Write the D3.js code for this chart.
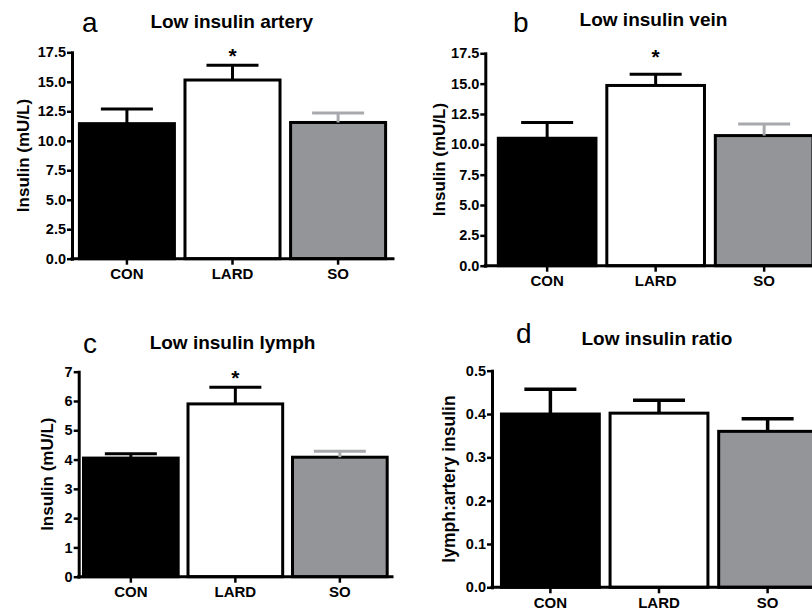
<!DOCTYPE html>
<html>
<head>
<meta charset="utf-8">
<script src="https://cdn.jsdelivr.net/npm/d3@7"></script>
<style>
  body { margin: 0; background: #fff; }
  svg text { font-family: "Liberation Sans", Arial, sans-serif; fill: #000; }
  .axis path, .axis line { stroke: #000; }
  .axis path { stroke-width: 3; stroke-linecap: square; }
  .axis line { stroke-width: 2.5; }
  .axis text { font-weight: bold; }
</style>
</head>
<body>
<svg id="chart" width="812" height="616"></svg>
<script>
// groups and values (mean, SEM)
var groups = ["CON", "LARD", "SO"];

var arteryMean = [11.45, 15.15, 11.55];
var arterySem  = [1.25, 1.25, 0.8];

var veinMean = [10.5, 14.85, 10.72];
var veinSem  = [1.3, 0.92, 0.95];

var lymphMean = [4.05, 5.9, 4.08];
var lymphSem  = [0.15, 0.57, 0.2];

var ratioMean = [0.40, 0.402, 0.36];
var ratioSem  = [0.057, 0.03, 0.029];

var sigStar = [false, true, false];

var fills = ["#000000", "#ffffff", "#939598"];

var panels = [
  { letter: "a", title: "Low insulin artery", ylabel: "Insulin (mU/L)", mean: arteryMean, sem: arterySem,
    max: 17.5, step: 2.5, fmt: ".1f", star: sigStar, starY: 17.6,
    left: 72, right: 393, top: 52.3, bottom: 258.7, padIn: 0.1, padOut: 0.07,
    titleX: 231.7, titleY: 27.7, letterX: 82, letterY: 32, ylabelX: 23, ylabelSize: 17,
    errColors: ["#000", "#000", "#a7a9ac"], errW: 3 },
  { letter: "b", title: "Low insulin vein", ylabel: "Insulin (mU/L)", mean: veinMean, sem: veinSem,
    max: 17.5, step: 2.5, fmt: ".1f", star: sigStar, starY: 17.64,
    left: 485.3, right: 826, top: 53.3, bottom: 265.7, padIn: 0.1, padOut: 0.12,
    titleX: 653.5, titleY: 26, letterX: 513, letterY: 32, ylabelX: 439, ylabelSize: 17,
    errColors: ["#000", "#000", "#a7a9ac"], errW: 3 },
  { letter: "c", title: "Low insulin lymph", ylabel: "Insulin (mU/L)", mean: lymphMean, sem: lymphSem,
    max: 7, step: 1, fmt: "d", star: sigStar, starY: 6.95,
    left: 78.7, right: 392, top: 371.7, bottom: 576.7, padIn: 0.094, padOut: 0.046,
    titleX: 232.5, titleY: 348.5, letterX: 83, letterY: 353, ylabelX: 47, ylabelSize: 17,
    errColors: ["#000", "#000", "#a7a9ac"], errW: 3 },
  { letter: "d", title: "Low insulin ratio", ylabel: "lymph:artery insulin", mean: ratioMean, sem: ratioSem,
    max: 0.5, step: 0.1, fmt: ".1f", star: null, starY: 0,
    left: 492, right: 826, top: 370.7, bottom: 587.3, padIn: 0.099, padOut: 0.087,
    titleX: 657, titleY: 345, letterX: 516, letterY: 343, ylabelX: 449, ylabelSize: 17.5,
    errColors: ["#000", "#000", "#000"], errW: 3.5 }
];

var svg = d3.select("#chart");

function drawPanel(p) {
  var g = svg.append("g");

  var x = d3.scaleBand().domain(groups)
      .range([p.left, p.right])
      .paddingInner(p.padIn)
      .paddingOuter(p.padOut);
  var y = d3.scaleLinear().domain([0, p.max]).range([p.bottom, p.top]);

  var rows = groups.map(function(k, i) {
    return { key: k, mean: p.mean[i], sem: p.sem[i], i: i };
  });

  // bars
  g.selectAll("rect.bar").data(rows).enter().append("rect")
      .attr("class", "bar")
      .attr("x", function(d) { return x(d.key); })
      .attr("width", x.bandwidth())
      .attr("y", function(d) { return y(d.mean); })
      .attr("height", function(d) { return y(0) - y(d.mean); })
      .attr("fill", function(d) { return fills[d.i]; })
      .attr("stroke", "#000")
      .attr("stroke-width", 3);

  // error bars, upper half only
  var capW = 52;
  var eb = g.selectAll("g.err").data(rows).enter().append("g")
      .attr("class", "err")
      .attr("stroke", function(d) { return p.errColors[d.i]; })
      .attr("stroke-width", p.errW);
  eb.append("line")
      .attr("x1", function(d) { return x(d.key) + x.bandwidth() / 2; })
      .attr("x2", function(d) { return x(d.key) + x.bandwidth() / 2; })
      .attr("y1", function(d) { return y(d.mean); })
      .attr("y2", function(d) { return y(d.mean + d.sem); });
  eb.append("line")
      .attr("x1", function(d) { return x(d.key) + x.bandwidth() / 2 - capW / 2; })
      .attr("x2", function(d) { return x(d.key) + x.bandwidth() / 2 + capW / 2; })
      .attr("y1", function(d) { return y(d.mean + d.sem); })
      .attr("y2", function(d) { return y(d.mean + d.sem); });

  // significance stars
  if (p.star) {
    g.selectAll("text.star").data(rows.filter(function(d) { return p.star[d.i]; }))
      .enter().append("text")
      .attr("class", "star")
      .attr("x", function(d) { return x(d.key) + x.bandwidth() / 2; })
      .attr("y", y(p.starY) + 12)
      .attr("text-anchor", "middle")
      .style("font-size", "21px")
      .style("font-weight", "bold")
      .text("*");
  }

  // axes
  var yAxis = d3.axisLeft(y)
      .tickValues(d3.range(0, p.max + p.step / 2, p.step))
      .tickFormat(d3.format(p.fmt))
      .tickSize(5).tickSizeOuter(0).tickPadding(1);
  g.append("g").attr("class", "axis")
      .attr("transform", "translate(" + p.left + ",0)")
      .call(yAxis)
      .selectAll("text").style("font-size", "14.5px");

  var xAxis = d3.axisBottom(x).tickSize(6).tickSizeOuter(0).tickPadding(4);
  var xg = g.append("g").attr("class", "axis")
      .attr("transform", "translate(0," + p.bottom + ")")
      .call(xAxis);
  xg.select(".domain").attr("d", "M" + p.left + ",0H" + p.right);
  xg.selectAll("text").style("font-size", "15px");

  // titles and labels
  g.append("text")
      .attr("x", p.titleX).attr("y", p.titleY)
      .attr("text-anchor", "middle")
      .style("font-size", "19px").style("font-weight", "bold")
      .text(p.title);

  g.append("text")
      .attr("x", p.letterX).attr("y", p.letterY)
      .style("font-size", "28px")
      .text(p.letter);

  g.append("text")
      .attr("transform", "translate(" + p.ylabelX + "," + ((p.top + p.bottom) / 2) + ") rotate(-90)")
      .attr("text-anchor", "middle")
      .attr("dy", "0.35em")
      .style("font-size", p.ylabelSize + "px").style("font-weight", "bold")
      .text(p.ylabel);
}

panels.forEach(drawPanel);
</script>
</body>
</html>
